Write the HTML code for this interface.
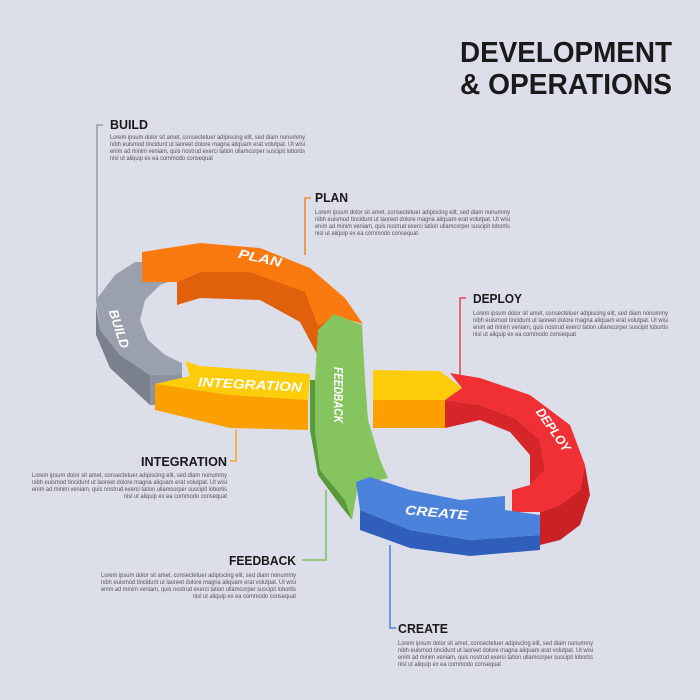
<!DOCTYPE html>
<html><head><meta charset="utf-8"><style>
html,body{margin:0;padding:0;background:#dcdfe9;}
svg{display:block}
.h{font-family:"Liberation Sans",sans-serif;font-weight:bold;fill:#1a1a1a}
.b{font-family:"Liberation Sans",sans-serif;font-size:6.3px;fill:#555}
.l{font-family:"Liberation Sans",sans-serif;font-weight:bold;font-style:italic;fill:#fff;font-size:13px}
</style></head><body>
<svg width="700" height="700" viewBox="0 0 700 700">
<rect width="700" height="700" fill="#dcdfe9"/>
<text class="h" x="460" y="62" font-size="29" textLength="212" lengthAdjust="spacingAndGlyphs">DEVELOPMENT</text>
<text class="h" x="460" y="94" font-size="29" textLength="212" lengthAdjust="spacingAndGlyphs">&amp; OPERATIONS</text>

<!-- connectors -->
<g fill="none" stroke-width="1.3">
<path d="M103,125 H97 V300" stroke="#8a8f9c"/>
<path d="M311,198 H305 V255" stroke="#f07d10"/>
<path d="M466,298 H460 V375" stroke="#e03030"/>
<path d="M230,461 H236 V430" stroke="#f5a000"/>
<path d="M302,560 H326 V490" stroke="#6cb848"/>
<path d="M396,628 H390 V545" stroke="#3a70d0"/>
</g>

<!-- BUILD gray -->
<polygon points="96,305 96,335 110,368 150,405 150,375 120,355 100,330" fill="#7b808d"/>
<polygon points="150,375 150,405 182,405 182,374" fill="#8d92a0"/>
<polygon points="135,262 115,275 96,300 100,330 120,355 150,375 182,374 182,363 165,355 148,340 140,320 145,300 160,285 168,282 168,262" fill="#9aa0ad"/>
<!-- PLAN orange -->
<polygon points="177,282 200,272 250,272 305,290 335,326 318,356 300,322 260,300 200,298 177,305" fill="#e0600c"/>
<polygon points="142,252 200,243 260,248 310,268 345,298 363,324 335,316 318,326 305,292 250,272 200,272 177,282 142,282" fill="#fa7a10"/>
<!-- INTEGRATION -->
<polygon points="155,384 230,395 308,400 308,430 230,428 155,410" fill="#fca000"/>
<polygon points="185,361 200,366 310,374 308,400 230,395 155,384 190,376" fill="#ffcc0a"/>
<!-- right yellow arrow -->
<polygon points="373,400 445,400 445,428 373,428" fill="#fca000"/>
<polygon points="373,370 440,371 462,388 445,400 373,400" fill="#ffcc0a"/>
<!-- DEPLOY red -->
<polygon points="585,465 590,495 580,525 560,540 540,545 540,512 560,505 580,490" fill="#c92124"/>
<polygon points="445,400 480,405 515,418 540,440 545,470 530,485 512,490 512,512 540,512 560,505 580,490 585,465 570,425 530,395 480,378 450,373 462,388" fill="#f03034"/>
<polygon points="445,400 480,405 515,418 540,440 545,470 530,485 530,455 510,432 480,420 445,428" fill="#d62629"/>
<!-- FEEDBACK green -->
<polygon points="315,380 315,430 320,470 345,500 352,520 340,505 318,475 310,430 310,380" fill="#5a9a3a"/>
<polygon points="318,330 334,314 362,325 365,380 368,420 380,460 388,478 358,485 352,520 345,500 320,470 315,430 315,380" fill="#86c460"/>
<!-- CREATE blue -->
<polygon points="360,510 410,530 470,540 540,535 540,550 470,556 410,548 360,530" fill="#2f5fba"/>
<polygon points="356,482 370,477 410,490 460,500 505,496 505,510 540,515 540,535 470,540 410,530 360,510" fill="#4a82dc"/>

<!-- labels -->
<text class="l" x="238" y="262" transform="rotate(12 258 258)" textLength="44" lengthAdjust="spacingAndGlyphs">PLAN</text>
<text class="l" x="100" y="331" transform="rotate(72 118 327)" font-size="11" textLength="40" lengthAdjust="spacingAndGlyphs">BUILD</text>
<text class="l" x="198" y="389" transform="rotate(3 250 385)" textLength="104" lengthAdjust="spacingAndGlyphs">INTEGRATION</text>
<text class="l" x="310" y="399" transform="rotate(90 338 395)" font-size="12" textLength="56" lengthAdjust="spacingAndGlyphs">FEEDBACK</text>
<text class="l" x="528" y="434" transform="rotate(55 553 430)" font-size="12" textLength="50" lengthAdjust="spacingAndGlyphs">DEPLOY</text>
<text class="l" x="405" y="517" transform="rotate(5 436 513)" textLength="63" lengthAdjust="spacingAndGlyphs">CREATE</text>

<!-- text blocks -->
<text class="h" x="110" y="129" font-size="13" textLength="38" lengthAdjust="spacingAndGlyphs">BUILD</text>
<g class="b" lengthAdjust="spacingAndGlyphs">
<text x="110" y="139" textLength="195" lengthAdjust="spacingAndGlyphs">Lorem ipsum dolor sit amet, consectetuer adipiscing elit, sed diam nonummy</text>
<text x="110" y="146" textLength="195" lengthAdjust="spacingAndGlyphs">nibh euismod tincidunt ut laoreet dolore magna aliquam erat volutpat. Ut wisi</text>
<text x="110" y="153" textLength="195" lengthAdjust="spacingAndGlyphs">enim ad minim veniam, quis nostrud exerci tation ullamcorper suscipit lobortis</text>
<text x="110" y="160" textLength="103" lengthAdjust="spacingAndGlyphs">nisl ut aliquip ex ea commodo consequat</text>
</g>
<text class="h" x="315" y="202" font-size="13" textLength="33" lengthAdjust="spacingAndGlyphs">PLAN</text>
<g class="b">
<text x="315" y="214" textLength="195" lengthAdjust="spacingAndGlyphs">Lorem ipsum dolor sit amet, consectetuer adipiscing elit, sed diam nonummy</text>
<text x="315" y="221" textLength="195" lengthAdjust="spacingAndGlyphs">nibh euismod tincidunt ut laoreet dolore magna aliquam erat volutpat. Ut wisi</text>
<text x="315" y="228" textLength="195" lengthAdjust="spacingAndGlyphs">enim ad minim veniam, quis nostrud exerci tation ullamcorper suscipit lobortis</text>
<text x="315" y="235" textLength="103" lengthAdjust="spacingAndGlyphs">nisl ut aliquip ex ea commodo consequat</text>
</g>
<text class="h" x="473" y="303" font-size="13" textLength="49" lengthAdjust="spacingAndGlyphs">DEPLOY</text>
<g class="b">
<text x="473" y="315" textLength="195" lengthAdjust="spacingAndGlyphs">Lorem ipsum dolor sit amet, consectetuer adipiscing elit, sed diam nonummy</text>
<text x="473" y="322" textLength="195" lengthAdjust="spacingAndGlyphs">nibh euismod tincidunt ut laoreet dolore magna aliquam erat volutpat. Ut wisi</text>
<text x="473" y="329" textLength="195" lengthAdjust="spacingAndGlyphs">enim ad minim veniam, quis nostrud exerci tation ullamcorper suscipit lobortis</text>
<text x="473" y="336" textLength="103" lengthAdjust="spacingAndGlyphs">nisl ut aliquip ex ea commodo consequat</text>
</g>
<text class="h" x="227" y="466" font-size="13" text-anchor="end" textLength="86" lengthAdjust="spacingAndGlyphs">INTEGRATION</text>
<g class="b" text-anchor="end">
<text x="227" y="477" textLength="195" lengthAdjust="spacingAndGlyphs">Lorem ipsum dolor sit amet, consectetuer adipiscing elit, sed diam nonummy</text>
<text x="227" y="484" textLength="195" lengthAdjust="spacingAndGlyphs">nibh euismod tincidunt ut laoreet dolore magna aliquam erat volutpat. Ut wisi</text>
<text x="227" y="491" textLength="195" lengthAdjust="spacingAndGlyphs">enim ad minim veniam, quis nostrud exerci tation ullamcorper suscipit lobortis</text>
<text x="227" y="498" textLength="103" lengthAdjust="spacingAndGlyphs">nisl ut aliquip ex ea commodo consequat</text>
</g>
<text class="h" x="296" y="565" font-size="13" text-anchor="end" textLength="67" lengthAdjust="spacingAndGlyphs">FEEDBACK</text>
<g class="b" text-anchor="end">
<text x="296" y="577" textLength="195" lengthAdjust="spacingAndGlyphs">Lorem ipsum dolor sit amet, consectetuer adipiscing elit, sed diam nonummy</text>
<text x="296" y="584" textLength="195" lengthAdjust="spacingAndGlyphs">nibh euismod tincidunt ut laoreet dolore magna aliquam erat volutpat. Ut wisi</text>
<text x="296" y="591" textLength="195" lengthAdjust="spacingAndGlyphs">enim ad minim veniam, quis nostrud exerci tation ullamcorper suscipit lobortis</text>
<text x="296" y="598" textLength="103" lengthAdjust="spacingAndGlyphs">nisl ut aliquip ex ea commodo consequat</text>
</g>
<text class="h" x="398" y="633" font-size="13" textLength="50" lengthAdjust="spacingAndGlyphs">CREATE</text>
<g class="b">
<text x="398" y="645" textLength="195" lengthAdjust="spacingAndGlyphs">Lorem ipsum dolor sit amet, consectetuer adipiscing elit, sed diam nonummy</text>
<text x="398" y="652" textLength="195" lengthAdjust="spacingAndGlyphs">nibh euismod tincidunt ut laoreet dolore magna aliquam erat volutpat. Ut wisi</text>
<text x="398" y="659" textLength="195" lengthAdjust="spacingAndGlyphs">enim ad minim veniam, quis nostrud exerci tation ullamcorper suscipit lobortis</text>
<text x="398" y="666" textLength="103" lengthAdjust="spacingAndGlyphs">nisl ut aliquip ex ea commodo consequat</text>
</g>
</svg>
</body></html>
